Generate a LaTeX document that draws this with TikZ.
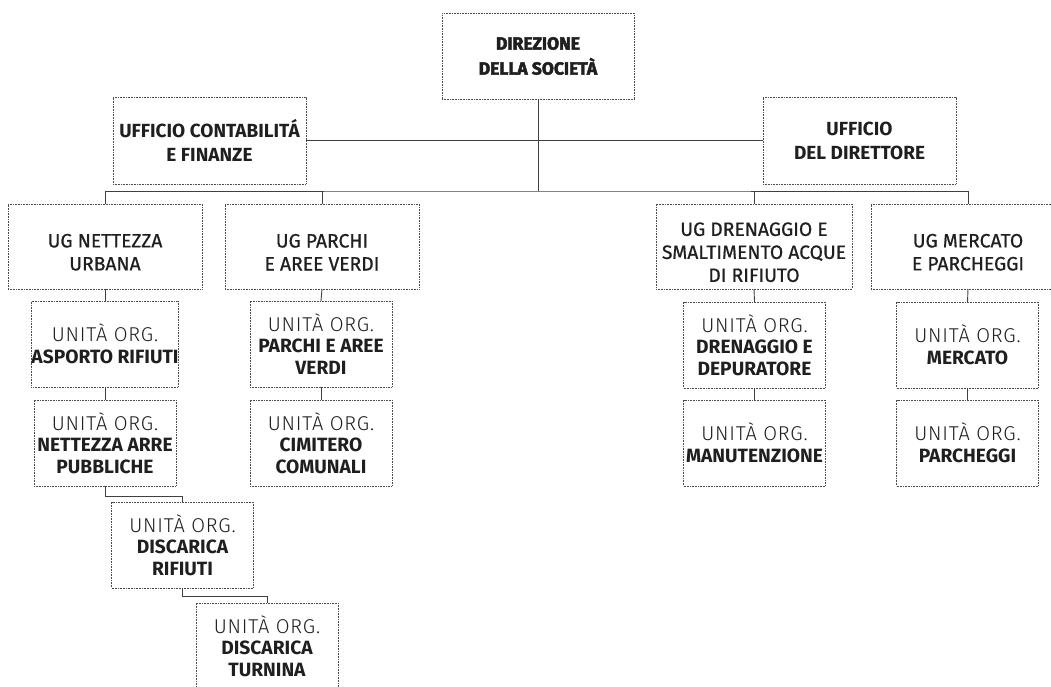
\documentclass[tikz,border=0pt]{standalone}
\usepackage{fontspec}
\setmainfont{Fira Sans}
\newfontfamily\lightf[LetterSpace=4]{Fira Sans Light}
\newfontfamily\medf[FakeBold=0.7]{Fira Sans}
\newfontfamily\heavyf[BoldFeatures={FakeBold=2.6}]{Fira Sans}
\newcommand{\uo}[1]{{\fontsize{20}{21}\selectfont\lightf UNITÀ ORG.}\\#1}
\newcommand{\B}[1]{{\bfseries #1}}
\newcommand{\dn}{\rule{0pt}{25pt}}
\begin{document}
\begin{tikzpicture}[x=1pt,y=-1pt,
  box/.style={draw=black!70, line width=0.8pt, dash pattern=on 0.8pt off 0.8pt,
    align=center, inner sep=0pt, outer sep=0pt, text=black!88,
    font=\fontsize{19.2}{21.5}\selectfont},
  topbox/.style={box, minimum width=192pt, minimum height=86pt, font=\fontsize{17.5}{25}\selectfont\heavyf\bfseries},
  offbox/.style={box, minimum width=193pt, minimum height=87pt, font=\fontsize{19}{24}\selectfont\bfseries},
  ugbox/.style={box, minimum width=194pt, minimum height=85pt, font=\fontsize{19.3}{23}\selectfont\medf},
  unitbox/.style={box, minimum width=142pt, minimum height=86pt},
  conn/.style={draw=black!75, line width=0.9pt}
]
\clip (0,0) rectangle (1051,686);
\useasboundingbox (0,0) rectangle (1051,686);

\node[topbox] (top) at (538,56) {DIREZIONE\\DELLA SOCIETÀ};
\node[offbox] (contab) at (209.5,140.5) {UFFICIO CONTABILITÁ\\E FINANZE};
\node[offbox] (dir) at (859.5,140.5) {UFFICIO\\DEL DIRETTORE};

\node[ugbox] (ugnet) at (105,246.5) {\dn UG NETTEZZA\\URBANA};
\node[ugbox] (ugpar) at (322,246.5) {\dn UG PARCHI\\E AREE VERDI};
\node[ugbox, minimum width=196pt] (ugdren) at (754,246.5) {\dn UG DRENAGGIO E\\SMALTIMENTO ACQUE\\DI RIFIUTO};
\node[ugbox] (ugmerc) at (968,246.5) {\dn UG MERCATO\\E PARCHEGGI};

\node[unitbox] (asp) at (105,344) {\uo{\B{ASPORTO RIFIUTI}}};
\node[unitbox] (netarre) at (105,443) {\uo{\B{NETTEZZA ARRE}\\\B{PUBBLICHE}}};
\node[unitbox] (disrif) at (182.5,545) {\uo{\B{DISCARICA}\\\B{RIFIUTI}}};
\node[unitbox] (distur) at (267,646) {\uo{\B{DISCARICA}\\\B{TURNINA}}};
\node[unitbox] (parchi) at (321,344) {\uo{\B{PARCHI E AREE}\\\B{VERDI}}};
\node[unitbox] (cimit) at (321,443) {\uo{\B{CIMITERO}\\\B{COMUNALI}}};
\node[unitbox] (dren) at (754.5,345) {\uo{\B{DRENAGGIO E}\\\B{DEPURATORE}}};
\node[unitbox] (manut) at (754.5,443) {\uo{\B{MANUTENZIONE}}};
\node[unitbox] (merc) at (967.5,345) {\uo{\B{MERCATO}}};
\node[unitbox] (parch) at (967.5,443) {\uo{\B{PARCHEGGI}}};

\coordinate (bus) at (538,191);
\draw[conn] (top.south) -- (bus);
\draw[conn] (contab.east) -- (dir.west);
\draw[conn] (ugnet.north) |- (bus) -| (ugmerc.north);
\draw[conn] (ugpar.north) -- (ugpar.north |- bus);
\draw[conn] (ugdren.north) -- (ugdren.north |- bus);

\draw[conn] (ugnet.south) -- (asp.north);
\draw[conn] (asp.south) -- (netarre.north);
\draw[conn] (netarre.south) -- ++(0,10) -| (disrif.north);
\draw[conn] (disrif.south) -- ++(0,8) -| (distur.north);
\draw[conn] (ugpar.south) -- (parchi.north);
\draw[conn] (parchi.south) -- (cimit.north);
\draw[conn] (ugdren.south) -- (dren.north);
\draw[conn] (dren.south) -- (manut.north);
\draw[conn] (ugmerc.south) -- (merc.north);
\draw[conn] (merc.south) -- (parch.north);
\end{tikzpicture}
\end{document}
